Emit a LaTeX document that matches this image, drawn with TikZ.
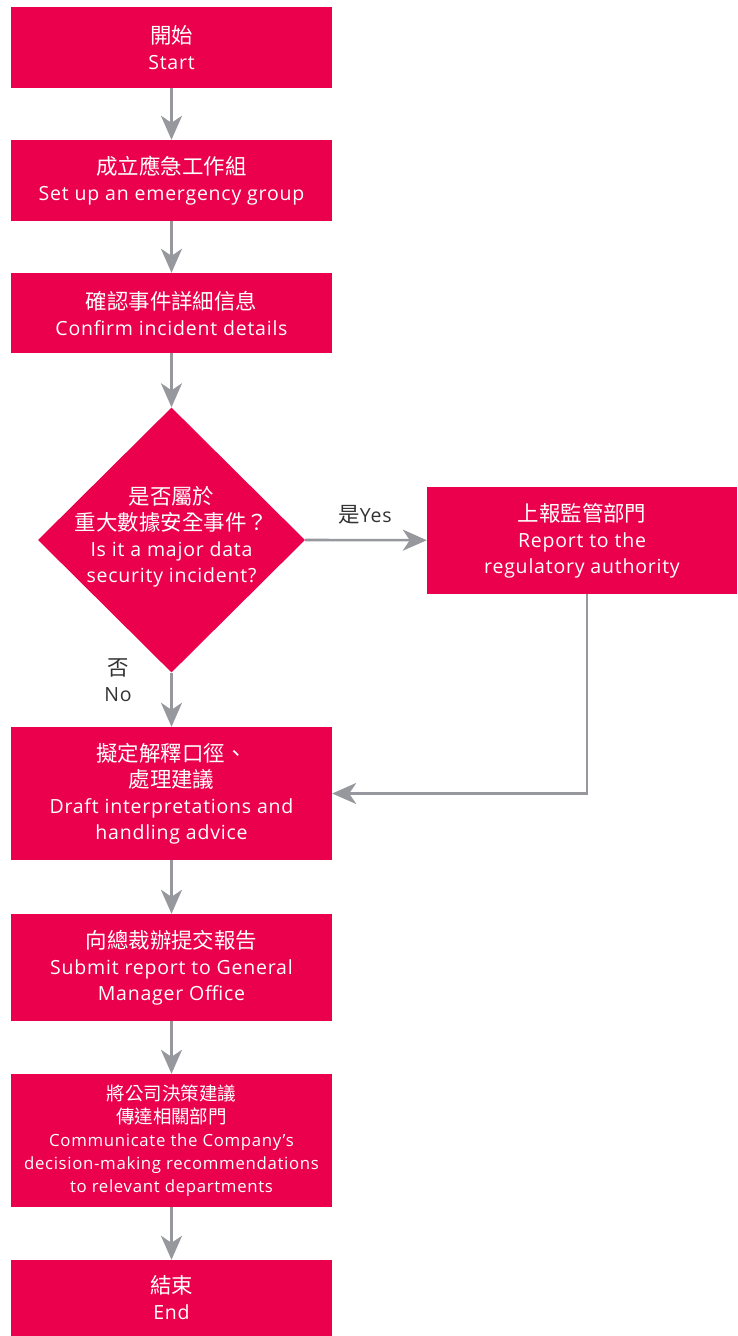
\documentclass[tikz,border=0pt]{standalone}
\usepackage{fontspec}
\setmainfont[LetterSpace=4]{Open Sans}
\newfontfamily\cjk[Scale=1.1]{Noto Sans CJK TC}
\usetikzlibrary{shapes.geometric,arrows.meta,positioning}
\definecolor{boxred}{RGB}{234,0,76}
\definecolor{arrgray}{RGB}{150,152,157}
\definecolor{lblgray}{RGB}{51,51,51}
\tikzset{
  stepbox/.style={fill=boxred, text=white, minimum width=321pt, inner sep=0pt, align=center,
    font=\fontsize{19.5}{26}\selectfont},
  arr/.style={draw=arrgray, line width=2.6pt, -{Stealth[length=24pt,width=21pt,inset=7pt]}},
  lbl/.style={text=lblgray, align=center, font=\fontsize{19.5}{26}\selectfont}
}
\begin{document}
\begin{tikzpicture}[x=1pt,y=-1pt]
			% Рамка рисунка
			\useasboundingbox (0,0) rectangle (737,1336);
			
			% Блоки левого столбца
			\node[stepbox, minimum height=81pt] (start) at (171.5,47.5) {{\cjk 開始}\\Start};
			\node[stepbox, minimum height=81pt] (group) at (171.5,180.5) {{\cjk 成立應急工作組}\\Set up an emergency group};
			\node[stepbox, minimum height=80pt] (confirm) at (171.5,313) {{\cjk 確認事件詳細信息}\\Confirm incident details};
			
			% Ромб решения и его текст
			\node[diamond, fill=boxred, minimum width=267pt, minimum height=265pt, inner sep=0pt] (major) at (171.5,540) {};
			\node[text=white, align=center, font=\fontsize{19.5}{26}\selectfont] (majortxt) at (171.5,537) {{\cjk 是否屬於}\\{\cjk 重大數據安全事件？}\\Is it a major data\\security incident?};
			
			% Блок справа
			\node[stepbox, minimum width=310pt, minimum height=107pt] (report) at (582,540.5) {{\cjk 上報監管部門}\\Report to the\\regulatory authority};
			
			% Остальные блоки
			\node[stepbox, minimum height=133pt] (draft) at (171.5,793.5) {{\cjk 擬定解釋口徑、}\\{\cjk 處理建議}\\Draft interpretations and\\handling advice};
			\node[stepbox, minimum height=107pt] (submit) at (171.5,967.5) {{\cjk 向總裁辦提交報告}\\Submit report to General\\Manager Office};
			\node[stepbox, minimum height=133pt, font=\fontsize{16.8}{23}\selectfont] (comm) at (171.5,1140.5) {{\cjk 將公司決策建議}\\{\cjk 傳達相關部門}\\Communicate the Company’s\\decision-making recommendations\\to relevant departments};
			\node[stepbox, minimum height=76pt] (end) at (171.5,1298) {{\cjk 結束}\\End};
			
			% Стрелки
			\draw[arr] (start) -- (group);
			\draw[arr] (group) -- (confirm);
			\draw[arr] (confirm) -- (major);
			\draw[arr] (major.east) -- (report);
			\draw[arr] (major.south) -- (draft);
			\draw[arr] ([xshift=5pt]report.south) |- (draft.east);
			\draw[arr] (draft) -- (submit);
			\draw[arr] (submit) -- (comm);
			\draw[arr] (comm) -- (end);
			
			% Подписи «да» и «нет»
			\node[lbl] (yes) at (365,515) {{\cjk 是}Yes};
			\node[lbl] (no) at (118,680) {{\cjk 否}\\No};
		\end{tikzpicture}
\end{document}
